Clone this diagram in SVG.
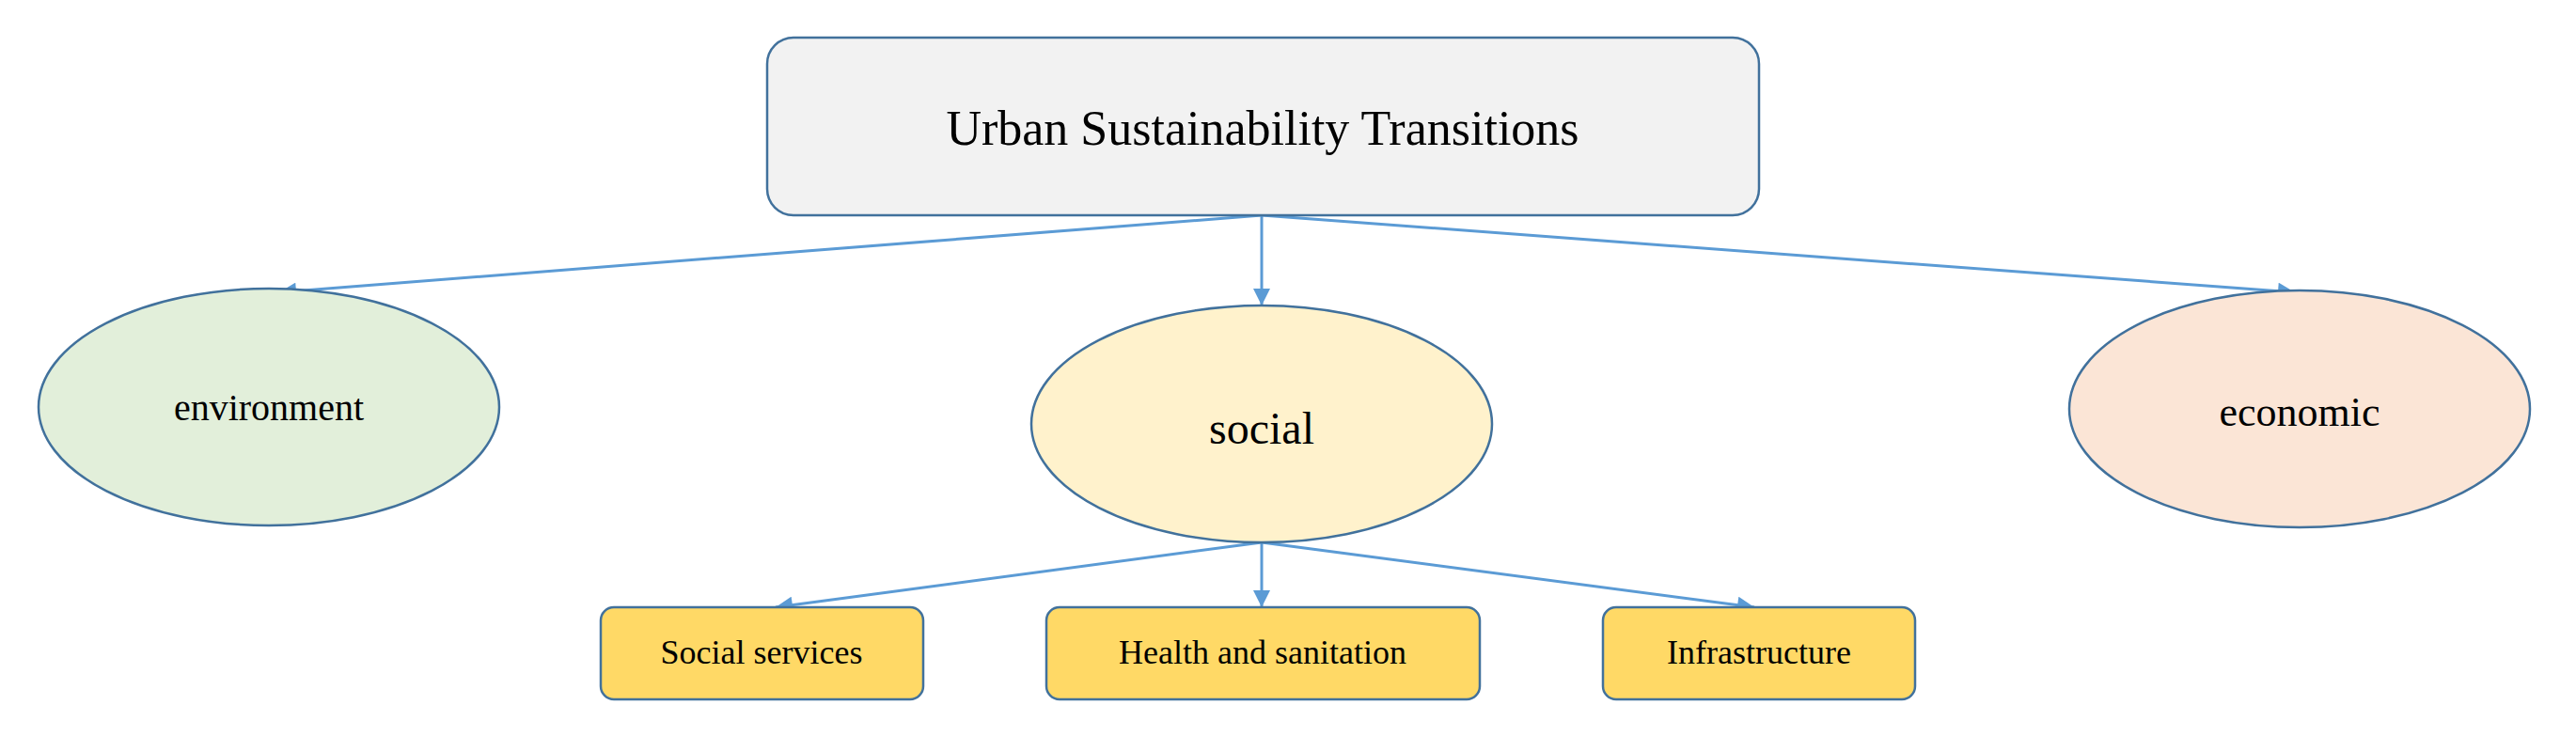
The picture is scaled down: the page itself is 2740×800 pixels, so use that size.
<svg xmlns="http://www.w3.org/2000/svg" width="2740" height="800" viewBox="0 0 2740 800">
<style>
text{font-family:"Liberation Serif",serif;fill:#000;text-anchor:middle;dominant-baseline:central}
.c{stroke:#5b9bd5;stroke-width:3;fill:none;marker-end:url(#a)}
.e{stroke:#41719c;stroke-width:2.5}
.b{fill:#ffd966;stroke:#41719c;stroke-width:2.5}
</style>
<defs><marker id="a" viewBox="0 0 10 10" refX="10" refY="5" markerWidth="20" markerHeight="18" markerUnits="userSpaceOnUse" orient="auto"><path d="M0,0L10,5L0,10z" fill="#5b9bd5"/></marker></defs>
<rect width="2740" height="800" fill="#fff"/>
<g id="connectors">
<line class="c" x1="1342" y1="229" x2="297" y2="311"/>
<line class="c" x1="1342" y1="229" x2="1342" y2="325"/>
<line class="c" x1="1342" y1="229" x2="2441" y2="311"/>
<line class="c" x1="1342" y1="577" x2="825" y2="646"/>
<line class="c" x1="1342" y1="577" x2="1342" y2="646"/>
<line class="c" x1="1342" y1="577" x2="1866" y2="646"/>
</g>
<g id="root"><rect x="816" y="40" width="1055" height="189" rx="28" fill="#f2f2f2" stroke="#41719c" stroke-width="2.5"/><text x="1343" y="136" font-size="52">Urban Sustainability Transitions</text></g>
<g id="environment"><ellipse class="e" cx="286" cy="433" rx="245" ry="126" fill="#e2efda"/><text x="286" y="433" font-size="40">environment</text></g>
<g id="social"><ellipse class="e" cx="1342" cy="451" rx="245" ry="126" fill="#fff2cc"/><text x="1342" y="455" font-size="48">social</text></g>
<g id="economic"><ellipse class="e" cx="2446" cy="435" rx="245" ry="126" fill="#fbe5d6"/><text x="2446" y="438" font-size="44">economic</text></g>
<g id="social-services"><rect class="b" x="639" y="646" width="343" height="98" rx="14"/><text x="810" y="694" font-size="36">Social services</text></g>
<g id="health"><rect class="b" x="1113" y="646" width="461" height="98" rx="14"/><text x="1343" y="694" font-size="36">Health and sanitation</text></g>
<g id="infrastructure"><rect class="b" x="1705" y="646" width="332" height="98" rx="14"/><text x="1871" y="694" font-size="36">Infrastructure</text></g>
</svg>
